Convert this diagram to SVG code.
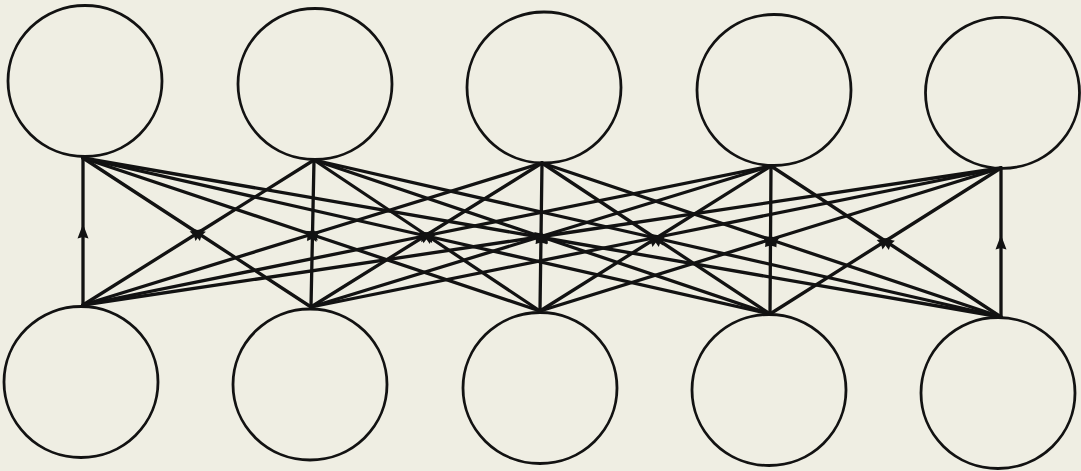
<svg xmlns="http://www.w3.org/2000/svg" width="1081" height="471" viewBox="0 0 1081 471">
<style>
.node{fill:none;stroke:#121212;stroke-width:2.8}
.edge{fill:none;stroke:#121212;stroke-width:3.3;stroke-linecap:round;stroke-linejoin:round;marker-mid:url(#arr)}
</style>
<defs>
<marker id="arr" markerUnits="userSpaceOnUse" markerWidth="24" markerHeight="24" viewBox="-12 -12 24 24" refX="0" refY="0" orient="auto">
<path d="M7.5,0 L-7,-5.5 L-5.5,0 L-7,5.5 Z" fill="#121212"/>
</marker>
</defs>
<rect width="1081" height="471" fill="#efeee3"/>
<g id="connectors">
<path class="edge" d="M83,305 L83,231.5 L83,158"/>
<path class="edge" d="M83,305 L198.5,232.5 L314,160"/>
<path class="edge" d="M83,305 L312.5,234 L542,163"/>
<path class="edge" d="M83,305 L427,235.5 L771,166"/>
<path class="edge" d="M83,305 L542,236.5 L1001,168"/>
<path class="edge" d="M311,307 L197,232.5 L83,158"/>
<path class="edge" d="M311,307 L312.5,233.5 L314,160"/>
<path class="edge" d="M311,307 L426.5,235 L542,163"/>
<path class="edge" d="M311,307 L541,236.5 L771,166"/>
<path class="edge" d="M311,307 L656,237.5 L1001,168"/>
<path class="edge" d="M540,311 L311.5,234.5 L83,158"/>
<path class="edge" d="M540,311 L427,235.5 L314,160"/>
<path class="edge" d="M540,311 L541,237 L542,163"/>
<path class="edge" d="M540,311 L655.5,238.5 L771,166"/>
<path class="edge" d="M540,311 L770.5,239.5 L1001,168"/>
<path class="edge" d="M770,314 L426.5,236 L83,158"/>
<path class="edge" d="M770,314 L542,237 L314,160"/>
<path class="edge" d="M770,314 L656,238.5 L542,163"/>
<path class="edge" d="M770,314 L770.5,240 L771,166"/>
<path class="edge" d="M770,314 L885.5,241 L1001,168"/>
<path class="edge" d="M1001,317 L542,237.5 L83,158"/>
<path class="edge" d="M1001,317 L657.5,238.5 L314,160"/>
<path class="edge" d="M1001,317 L771.5,240 L542,163"/>
<path class="edge" d="M1001,317 L886,241.5 L771,166"/>
<path class="edge" d="M1001,317 L1001,242.5 L1001,168"/>
</g>
<g id="top1"><ellipse class="node" cx="85" cy="81" rx="77" ry="75.5"/></g>
<g id="top2"><ellipse class="node" cx="315" cy="84" rx="77" ry="75.5"/></g>
<g id="top3"><ellipse class="node" cx="544" cy="87.5" rx="77" ry="75.5"/></g>
<g id="top4"><ellipse class="node" cx="774" cy="90" rx="77" ry="75.5"/></g>
<g id="top5"><ellipse class="node" cx="1002.5" cy="92.8" rx="77" ry="75.5"/></g>
<g id="bottom1"><ellipse class="node" cx="81" cy="382" rx="77" ry="75.5"/></g>
<g id="bottom2"><ellipse class="node" cx="310" cy="384.5" rx="77" ry="75.5"/></g>
<g id="bottom3"><ellipse class="node" cx="540" cy="388" rx="77" ry="75.5"/></g>
<g id="bottom4"><ellipse class="node" cx="769" cy="390" rx="77" ry="75.5"/></g>
<g id="bottom5"><ellipse class="node" cx="998" cy="393" rx="77" ry="75.5"/></g>
</svg>
